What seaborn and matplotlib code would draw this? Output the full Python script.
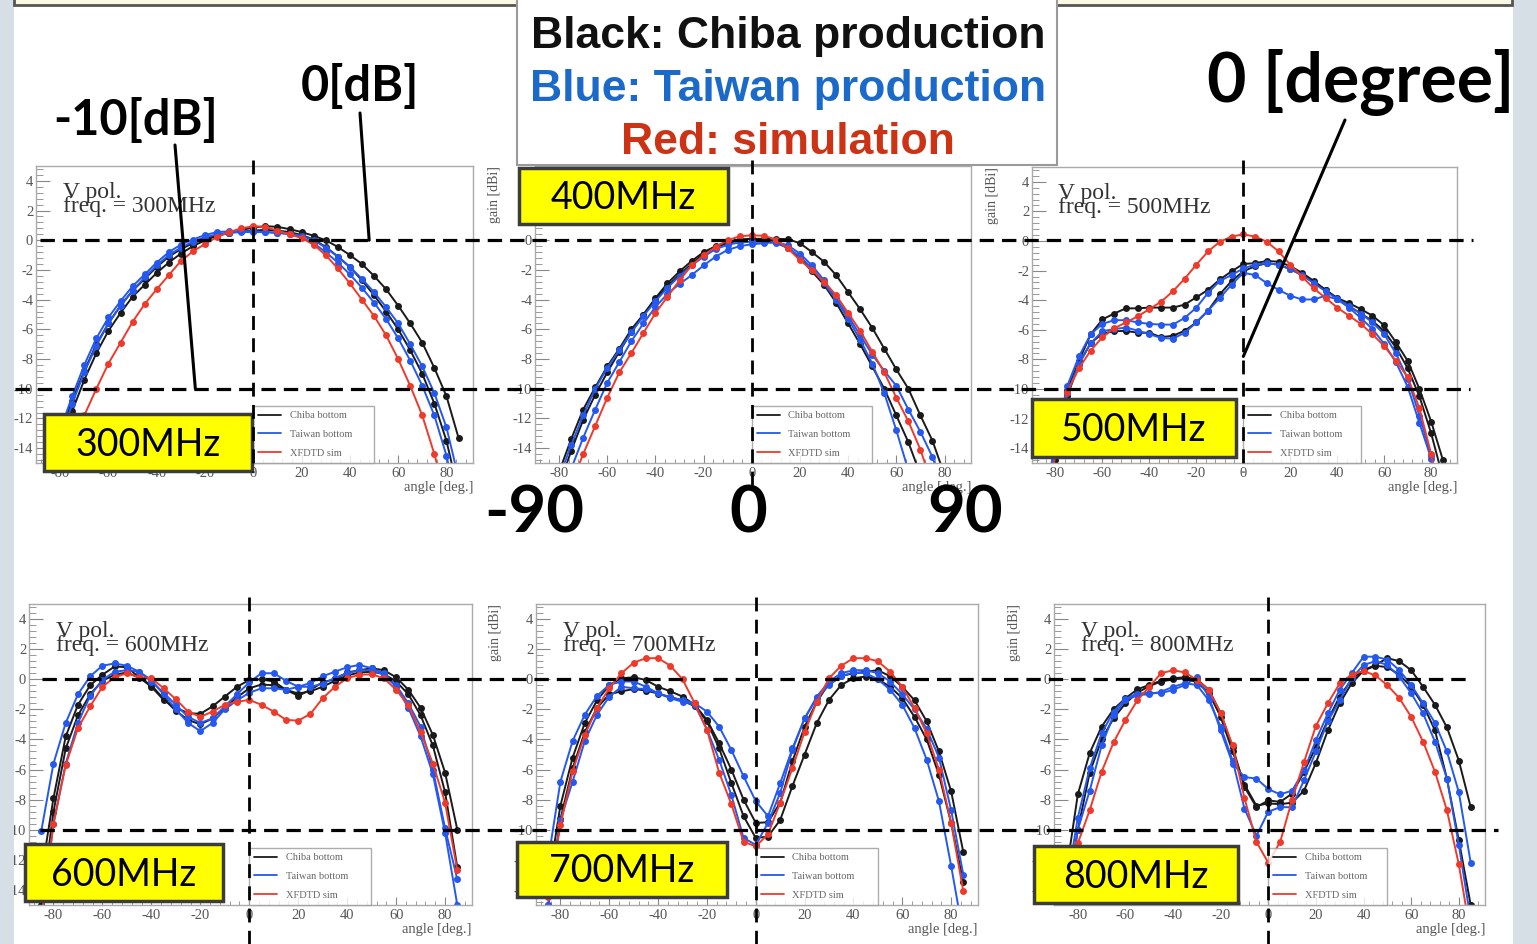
import numpy as np
import pandas as pd
import matplotlib
matplotlib.use("Agg")
import matplotlib.pyplot as plt
import seaborn as sns
from matplotlib.lines import Line2D
from matplotlib.patches import Rectangle
from matplotlib.ticker import MultipleLocator
from matplotlib.transforms import blended_transform_factory

# --- data (gain in dBi vs angle in deg.) ---
ANGLES = [-85, -80, -75, -70, -65, -60, -55, -50, -45, -40,
          -35, -30, -25, -20, -15, -10, -5, 0,
          5, 10, 15, 20, 25, 30, 35, 40, 45, 50,
          55, 60, 65, 70, 75, 80, 85]

CURVE_NAMES = ["Chiba bottom A", "Chiba bottom B", "Taiwan bottom A", "Taiwan bottom B", "XFDTD sim"]
LEGEND_LABELS = ["Chiba bottom", "Taiwan bottom", "XFDTD sim"]
FREQS = ["300MHz", "400MHz", "500MHz", "600MHz", "700MHz", "800MHz"]

chiba_a_300 = [-17, -14, -11.5, -9.4, -7.6, -6.1, -4.9, -3.8, -3.0, -2.2,
               -1.5, -0.9, -0.4, 0.0, 0.3, 0.5, 0.7, 0.85,
               0.95, 0.9, 0.75, 0.55, 0.3, 0.0, -0.45, -1.0, -1.6, -2.4,
               -3.3, -4.4, -5.6, -6.9, -8.6, -10.5, -13.3]
chiba_b_300 = [-16, -13, -10.8, -8.8, -7.0, -5.6, -4.4, -3.4, -2.6, -1.8,
               -1.1, -0.6, -0.2, 0.1, 0.35, 0.5, 0.6, 0.65,
               0.7, 0.65, 0.55, 0.35, 0.05, -0.45, -1.1, -1.8, -2.7, -3.7,
               -4.8, -6.0, -7.4, -9.0, -11.0, -13.5, -17.0]
taiwan_a_300 = [-15.5, -12.8, -10.5, -8.4, -6.6, -5.2, -4.1, -3.1, -2.3, -1.5,
                -0.8, -0.3, 0.05, 0.35, 0.55, 0.6, 0.62, 0.6,
                0.55, 0.5, 0.4, 0.2, -0.2, -0.8, -1.5, -2.3, -3.2, -4.2,
                -5.3, -6.6, -8.1, -9.8, -11.8, -14.5, -18.0]
taiwan_b_300 = [-16.5, -13.5, -11.0, -8.9, -7.1, -5.6, -4.4, -3.4, -2.5, -1.7,
                -1.0, -0.5, -0.1, 0.2, 0.4, 0.5, 0.55, 0.55,
                0.55, 0.5, 0.45, 0.3, 0.0, -0.5, -1.1, -1.8, -2.6, -3.5,
                -4.5, -5.6, -7.0, -8.5, -10.3, -12.6, -16.0]
sim_300 = [-19.5, -16.5, -14.0, -11.8, -10.0, -8.3, -6.9, -5.5, -4.3, -3.3,
           -2.35, -1.4, -0.75, -0.25, 0.22, 0.55, 0.8, 0.95,
           0.9, 0.65, 0.4, 0.15, -0.3, -1.0, -1.9, -2.9, -4.0, -5.1,
           -6.4, -8.0, -9.8, -11.8, -14.4, -17.5, -21.0]

chiba_a_400 = [-18, -15.6, -13.4, -11.4, -9.9, -8.5, -7.3, -6.0, -5.0, -4.0,
               -3.1, -2.3, -1.6, -0.9, -0.45, -0.2, 0.0, 0.1,
               0.1, 0.1, 0.07, -0.2, -0.8, -1.45, -2.35, -3.5, -4.65, -5.9,
               -7.3, -8.7, -10.0, -11.8, -13.5, -15.8, -18.5]
chiba_b_400 = [-19, -16.5, -14.2, -12.1, -10.4, -8.9, -7.5, -6.2, -5.0, -3.9,
               -2.9, -2.1, -1.4, -0.8, -0.4, -0.1, 0.05, 0.1,
               0.05, -0.1, -0.55, -1.2, -2.1, -3.0, -4.2, -5.6, -7.0, -8.5,
               -10.0, -11.8, -13.6, -15.8, -18.0, -20.5, -23.0]
taiwan_a_400 = [-18.5, -16, -13.8, -11.8, -10.0, -8.6, -7.4, -6.2, -5.1, -4.1,
                -3.2, -2.4, -1.7, -1.1, -0.6, -0.3, -0.15, -0.1,
                -0.1, -0.2, -0.5, -1.1, -1.9, -2.9, -4.0, -5.3, -6.7, -8.3,
                -10.3, -12.8, -15.5, -18.5, -21.5, -24.5, -27.5]
taiwan_b_400 = [-21, -18, -15.4, -13.3, -11.4, -9.6, -8.2, -6.8, -5.6, -4.5,
                -3.6, -2.95, -2.35, -1.7, -1.1, -0.65, -0.4, -0.27,
                -0.2, -0.1, -0.35, -0.9, -1.7, -2.7, -3.9, -5.1, -6.4, -7.7,
                -8.8, -9.8, -11.4, -12.9, -14.6, -17.0, -20.0]
sim_400 = [-22, -19, -16.5, -14.4, -12.5, -10.6, -8.9, -7.6, -6.25, -4.9,
           -3.8, -2.7, -1.7, -1.0, -0.45, 0.0, 0.27, 0.33,
           0.3, 0.05, -0.55, -1.35, -2.0, -2.8, -3.7, -4.9, -6.1, -7.5,
           -8.9, -10.6, -12.2, -14.1, -16.5, -19.0, -22.0]

chiba_a_500 = [-19, -14.3, -10.1, -8.1, -6.3, -5.3, -4.9, -4.55, -4.55, -4.5,
               -4.5, -4.5, -4.3, -3.8, -3.3, -2.6, -2.05, -1.55,
               -1.5, -1.35, -1.4, -1.7, -2.15, -2.7, -3.3, -3.85, -4.2, -4.6,
               -5.05, -5.7, -6.85, -8.1, -10.0, -12.2, -14.8]
chiba_b_500 = [-19.5, -14.8, -10.5, -8.3, -6.9, -6.25, -6.1, -6.07, -6.2, -6.2,
               -6.5, -6.4, -6.07, -5.5, -4.7, -3.6, -2.7, -2.05,
               -1.7, -1.5, -1.6, -1.9, -2.3, -2.8, -3.3, -3.9, -4.4, -4.9,
               -5.4, -6.1, -7.2, -8.6, -10.5, -13.0, -16.0]
taiwan_a_500 = [-18, -13.5, -9.8, -7.8, -6.3, -5.6, -5.35, -5.35, -5.5, -5.6,
                -5.65, -5.65, -5.2, -4.5, -3.5, -2.7, -2.3, -1.85,
                -1.6, -1.5, -1.6, -1.9, -2.3, -2.85, -3.4, -3.9, -4.4, -4.9,
                -5.5, -6.3, -7.6, -9.3, -11.8, -14.5, -18.0]
taiwan_b_500 = [-19, -14, -10.3, -8.3, -6.9, -6.1, -5.95, -5.85, -6.05, -6.3,
                -6.55, -6.6, -6.2, -5.5, -4.7, -3.85, -2.95, -2.15,
                -2.3, -2.85, -3.3, -3.7, -3.95, -3.95, -3.7, -3.95, -4.5, -5.2,
                -5.95, -6.95, -8.2, -9.85, -12.3, -14.7, -19.0]
sim_500 = [-19, -14.4, -10.2, -8.6, -7.4, -6.5, -5.9, -5.5, -5.1, -4.6,
           -4.1, -3.4, -2.55, -1.6, -0.7, -0.05, 0.3, 0.45,
           0.3, -0.05, -0.7, -1.6, -2.4, -3.2, -3.85, -4.5, -5.05, -5.6,
           -6.3, -7.1, -8.1, -9.2, -11.3, -14.4, -19.0]

chiba_a_600 = [-13, -7.9, -3.8, -1.7, -0.4, 0.3, 0.85, 0.8, 0.13, -0.5,
               -1.37, -1.9, -2.25, -2.3, -1.8, -1.15, -0.5, -0.05,
               0.0, -0.15, -0.7, -1.1, -0.7, -0.2, 0.0, 0.45, 0.6, 0.73,
               0.6, 0.13, -0.7, -1.9, -3.7, -6.2, -10.0]
chiba_b_600 = [-15, -8.8, -4.6, -2.4, -1.0, -0.1, 0.3, 0.45, 0.1, -0.4,
               -1.3, -2.1, -2.7, -3.0, -2.6, -1.9, -1.2, -0.6,
               -0.35, -0.4, -0.7, -0.95, -0.8, -0.5, -0.1, 0.25, 0.45, 0.5,
               0.35, -0.15, -1.0, -2.4, -4.4, -7.5, -12.5]
taiwan_a_600 = [-10.1, -5.6, -2.9, -1.0, 0.2, 0.9, 1.05, 0.9, 0.5, -0.15,
                -0.9, -1.7, -2.5, -2.9, -2.6, -1.8, -1.0, -0.2,
                0.4, 0.4, -0.1, -0.5, -0.25, 0.2, 0.5, 0.8, 0.95, 0.73,
                0.4, -0.4, -1.6, -3.15, -6.0, -9.9, -13.3]
taiwan_b_600 = [-16, -9.6, -5.6, -2.9, -1.1, -0.05, 0.5, 0.6, 0.5, -0.05,
                -1.0, -2.0, -2.9, -3.45, -2.9, -2.0, -1.4, -0.9,
                -0.6, -0.6, -0.7, -0.5, -0.5, -0.3, 0.1, 0.4, 0.6, 0.6,
                0.3, -0.5, -1.9, -3.8, -6.3, -10.2, -15.0]
sim_600 = [-16, -9.6, -5.7, -3.25, -1.8, -0.5, 0.13, 0.4, 0.13, 0.07,
           -0.6, -1.33, -2.15, -2.5, -2.15, -1.7, -1.5, -1.37,
           -1.7, -2.15, -2.7, -2.75, -2.3, -1.26, -0.5, 0.07, 0.3, 0.33,
           0.07, -0.7, -1.7, -3.5, -5.6, -8.2, -12.7]

chiba_a_700 = [-13.5, -8.4, -5.2, -2.9, -1.4, -0.4, 0.07, 0.13, -0.05, -0.5,
               -0.8, -1.15, -1.7, -2.7, -4.25, -6.0, -8.0, -9.55,
               -9.5, -8.2, -5.45, -3.15, -1.5, -0.27, 0.22, 0.4, 0.5, 0.6,
               0.2, -0.5, -1.4, -2.8, -4.8, -7.45, -11.5]
chiba_b_700 = [-15, -9.3, -5.9, -3.5, -1.9, -1.0, -0.8, -0.65, -0.75, -0.95,
               -1.2, -1.4, -1.8, -2.8, -4.6, -6.9, -9.1, -10.55,
               -10.45, -9.35, -7.1, -5.0, -2.9, -1.37, -0.38, 0.07, 0.18, 0.0,
               -0.5, -1.26, -2.5, -4.0, -6.35, -9.55, -13.5]
taiwan_a_700 = [-12, -6.8, -4.1, -2.35, -1.1, -0.37, -0.15, -0.15, -0.5, -0.93,
                -1.2, -1.37, -1.6, -2.15, -3.15, -4.7, -6.45, -8.1,
                -9.1, -6.9, -4.6, -2.6, -1.15, -0.15, 0.4, 0.6, 0.6, 0.4,
                -0.15, -1.0, -2.0, -3.3, -5.2, -8.7, -13.0]
taiwan_b_700 = [-15, -9.35, -6.8, -4.1, -2.35, -1.15, -0.5, -0.6, -0.65, -0.93,
                -1.26, -1.5, -1.7, -3.35, -5.35, -7.7, -10.55, -11.0,
                -9.55, -7.55, -4.7, -2.6, -1.26, -0.38, 0.2, 0.45, 0.4, 0.0,
                -0.7, -1.7, -3.25, -5.35, -8.1, -12.4, -17.0]
sim_700 = [-14.5, -9.7, -6.1, -3.7, -1.9, -0.6, 0.4, 1.1, 1.4, 1.4,
           0.9, 0.0, -1.6, -3.35, -6.2, -8.3, -10.8, -11.1,
           -10.3, -8.2, -5.9, -3.5, -1.5, 0.07, 0.9, 1.4, 1.4, 1.2,
           0.5, -0.5, -1.9, -3.6, -6.0, -9.55, -14.1]

chiba_a_800 = [-13, -7.65, -4.9, -3.15, -2.0, -1.27, -0.67, -0.38, -0.1, 0.07,
               0.13, 0.0, -0.7, -2.25, -4.5, -7.15, -8.5, -8.05,
               -8.15, -7.6, -6.15, -4.5, -2.7, -1.15, 0.0, 0.6, 0.95, 1.4,
               1.2, 0.6, -0.5, -1.7, -3.2, -5.4, -8.5]
chiba_b_800 = [-15, -10, -6.2, -4.0, -2.6, -1.6, -0.9, -0.45, -0.15, 0.0,
               0.05, -0.2, -0.9, -2.5, -4.8, -7.0, -8.4, -8.25,
               -8.3, -8.2, -7.4, -5.55, -3.4, -1.6, -0.27, 0.57, 0.9, 0.8,
               0.3, -0.5, -1.7, -3.4, -6.6, -10.7, -15.0]
taiwan_a_800 = [-14, -9.2, -5.9, -3.6, -2.15, -1.3, -0.95, -0.9, -0.93, -0.7,
                -0.38, 0.13, -1.15, -3.4, -5.6, -6.5, -6.6, -7.3,
                -7.65, -7.4, -6.05, -4.05, -2.27, -0.7, 0.4, 1.5, 1.5, 1.3,
                0.6, -0.38, -1.6, -2.9, -4.8, -7.5, -12.2]
taiwan_b_800 = [-15, -10, -7.4, -4.4, -2.4, -1.4, -1.05, -1.0, -0.83, -0.5,
                -0.27, -0.38, -1.4, -3.15, -5.4, -8.6, -10.4, -8.8,
                -8.5, -8.5, -6.7, -4.8, -2.8, -1.4, 0.07, 0.95, 1.2, 0.95,
                0.18, -0.93, -2.27, -4.15, -6.6, -11.0, -16.0]
sim_800 = [-16, -10.9, -8.7, -6.15, -4.2, -2.7, -1.4, -0.5, 0.4, 0.6,
           0.45, -0.05, -0.7, -2.25, -4.4, -7.9, -10.8, -12.2,
           -10.8, -8.0, -5.5, -3.1, -1.6, -0.27, 0.3, 0.55, 0.25, -0.4,
           -1.25, -2.5, -4.15, -6.15, -8.7, -12.3, -17.0]

PANEL_CURVES = [
    [chiba_a_300, chiba_b_300, taiwan_a_300, taiwan_b_300, sim_300],
    [chiba_a_400, chiba_b_400, taiwan_a_400, taiwan_b_400, sim_400],
    [chiba_a_500, chiba_b_500, taiwan_a_500, taiwan_b_500, sim_500],
    [chiba_a_600, chiba_b_600, taiwan_a_600, taiwan_b_600, sim_600],
    [chiba_a_700, chiba_b_700, taiwan_a_700, taiwan_b_700, sim_700],
    [chiba_a_800, chiba_b_800, taiwan_a_800, taiwan_b_800, sim_800],
]

# --- layout (figure pixels) ---
W, H = 1537, 944
PANEL_BOXES = [(36, 166, 473, 463), (535, 166, 971, 463), (1032, 167, 1457, 463),
               (29, 604, 472, 905), (536, 604, 978, 905), (1054, 604, 1485, 905)]
YELLOW_BOXES = [(44, 414, 252, 471), (519, 168, 728, 224), (1032, 399, 1236, 457),
                (25, 844, 223, 901), (517, 842, 727, 897), (1034, 846, 1238, 903)]

BLACK, BLUE, RED = "#1a1a1a", "#2458ee", "#ee3a2a"
PALETTE = dict(zip(CURVE_NAMES, [BLACK, BLACK, BLUE, BLUE, RED]))
GREY_TXT = "#555555"

sns.set_theme(style="white")
plt.rcParams["font.family"] = ["Liberation Serif", "DejaVu Serif"]
plt.rcParams["axes.unicode_minus"] = False

fig = plt.figure(figsize=(15.37, 9.44), dpi=100)
fig.patch.set_facecolor("white")


def px_axes(left, top, right, bottom, **kw):
    return fig.add_axes([left / W, 1 - bottom / H, (right - left) / W, (bottom - top) / H], **kw)


axes = []
for i, (curves, freq, box) in enumerate(zip(PANEL_CURVES, FREQS, PANEL_BOXES)):
    for c in curves:
        if len(c) != len(ANGLES):
            raise ValueError(f"{freq}: {len(c)} values")
    ax = px_axes(*box)
    df = pd.DataFrame({
        "angle": ANGLES * len(curves),
        "gain": sum(curves, []),
        "curve": np.repeat(CURVE_NAMES, len(ANGLES)),
    })
    sns.lineplot(data=df, x="angle", y="gain", hue="curve", hue_order=CURVE_NAMES,
                 palette=PALETTE, marker="o", markersize=5, markeredgewidth=0,
                 linewidth=1.4, estimator=None, sort=False, legend=False, ax=ax)
    ax.set_xlim(-90, 91)
    ax.set_ylim(-15, 5)
    ax.set_xlabel("")
    ax.set_ylabel("")
    ax.xaxis.set_minor_locator(MultipleLocator(4))
    ax.yaxis.set_minor_locator(MultipleLocator(0.4))
    ax.set_xticks([-80, -60, -40, -20, 0, 20, 40, 60, 80])
    ax.set_yticks([-14, -12, -10, -8, -6, -4, -2, 0, 2, 4])
    ax.tick_params(axis="y", which="major", direction="in", length=10, width=0.8,
                   color="#888888", labelsize=10.5, labelcolor=GREY_TXT, pad=2)
    ax.tick_params(axis="y", which="minor", direction="in", length=5, width=0.6, color="#888888")
    ax.tick_params(axis="x", which="major", direction="in", length=6, width=0.8,
                   color="#888888", labelsize=10.5, labelcolor=GREY_TXT, pad=3)
    ax.tick_params(axis="x", which="minor", direction="in", length=3, width=0.6, color="#888888")
    ax.tick_params(left=True, bottom=True, which="both")
    for sp in ax.spines.values():
        sp.set_color("#aaaaaa")
        sp.set_linewidth(1.0)

    # panel 400MHz has its caption hidden under the yellow tag in the slide
    if i != 1:
        ax.text(0.062, 0.945, "V pol.", transform=ax.transAxes, fontsize=17, va="top", color="#333333")
        ax.text(0.062, 0.898, f"freq. = {freq}", transform=ax.transAxes, fontsize=17, va="top",
                color="#333333")
    ax.text(1.0, -0.06, "angle [deg.]", transform=ax.transAxes, ha="right", va="top",
            fontsize=10.5, color=GREY_TXT)
    # the two left-most y titles fall off the slide
    if i not in (0, 3):
        ax.text(-0.092, 1.0, "gain [dBi]", transform=ax.transAxes, rotation=90, ha="center",
                va="top", fontsize=10, color=GREY_TXT)

    handles = [Line2D([], [], color=c, lw=1.3) for c in (BLACK, BLUE, RED)]
    leg = ax.legend(handles, LEGEND_LABELS, loc="lower left", bbox_to_anchor=(0.497, 0.0, 0.276, 0.2),
                    mode="expand", borderaxespad=0, frameon=True, fancybox=False,
                    prop={"family": ["Liberation Serif"], "size": 7.5}, labelspacing=0.9,
                    handlelength=2.2, handletextpad=0.8, borderpad=0.5)
    leg.get_frame().set_edgecolor("#999999")
    leg.get_frame().set_linewidth(1.0)
    for t in leg.get_texts():
        t.set_color("#666666")
    axes.append(ax)

# --- slide overlay in pixel coordinates ---
ov = fig.add_axes([0, 0, 1, 1], zorder=10)
ov.set_xlim(0, W)
ov.set_ylim(H, 0)
ov.axis("off")
ov.patch.set_alpha(0)

STRIP = "#d6dee6"
ov.add_patch(Rectangle((0, 0), 14, H, fc=STRIP, ec="none"))
ov.add_patch(Rectangle((1513, 0), W - 1513, H, fc=STRIP, ec="none"))
ov.add_patch(Rectangle((14, -10), 1498, 15, fc="#fbf8e4", ec="#555555", lw=2))

# 0 dB / -10 dB guide lines across each row, vertical 0 deg lines per panel
dash = dict(color="black", lw=2.3, linestyle=(0, (4.5, 2.5)))
row_lines = [(axes[0], [(0, 40, 1473), (-10, 15, 1470)]),
             (axes[3], [(0, 42, 1473), (-10, 40, 1498)])]
for ref_ax, levels in row_lines:
    tr = blended_transform_factory(ov.transData, ref_ax.transData)
    for level, x0, x1 in levels:
        ov.plot([x0, x1], [level, level], transform=tr, **dash)
for i, ax in enumerate(axes):
    y0, y1 = (160, 472) if i < 3 else (597, 944)
    if i == 1:
        y1 = 490
    tr = blended_transform_factory(ax.transData, ov.transData)
    ov.plot([0, 0], [y0, y1], transform=tr, color="black", lw=2.0, linestyle=(0, (5, 3)))

# legend box at the top
ov.add_patch(Rectangle((517, -5), 540, 170, fc="white", ec="#9a9a9a", lw=1.5))
legend_lines = [("Black: Chiba production", "#111111", 48),
                ("Blue: Taiwan production", "#1b6ac9", 101),
                ("Red: simulation", "#cc3314", 154)]
for txt, col, y in legend_lines:
    ov.text(788, y, txt, ha="center", va="baseline", fontsize=32, fontweight="bold",
            color=col, family=["Liberation Sans", "DejaVu Sans"])

# yellow frequency tags
for (x0, y0, x1, y1), freq in zip(YELLOW_BOXES, FREQS):
    ov.add_patch(Rectangle((x0, y0), x1 - x0, y1 - y0, fc="#ffff00", ec="#3c3c3c", lw=2.5))
    ov.text((x0 + x1) / 2, (y0 + y1) / 2 + 2, freq, ha="center", va="center", fontsize=27,
            color="black", family=["Lato", "DejaVu Sans"])

# big labels written on the slide
big = dict(ha="center", va="center", fontweight="bold", color="black", family=["Lato", "DejaVu Sans"])
ov.text(136, 120, "-10[dB]", fontsize=35, **big)
ov.text(360, 86, "0[dB]", fontsize=35, **big)
ov.text(1361, 82, "0 [degree]", fontsize=49, **big)
ov.text(534, 514, "-90", fontsize=47, **big)
ov.text(748, 514, "0", fontsize=47, **big)
ov.text(965, 514, "90", fontsize=47, **big)

pointer = dict(arrowstyle="-", lw=2.2, color="black", shrinkA=0, shrinkB=0)
ov.annotate("", xy=(-24, -10), xycoords=axes[0].transData, xytext=(175, 145),
            textcoords="data", arrowprops=pointer)
ov.annotate("", xy=(48, 0), xycoords=axes[0].transData, xytext=(360, 113),
            textcoords="data", arrowprops=pointer)
ov.annotate("", xy=(0, -7.8), xycoords=axes[2].transData, xytext=(1345, 120),
            textcoords="data", arrowprops=pointer)

fig.savefig("out.png", dpi=100)
